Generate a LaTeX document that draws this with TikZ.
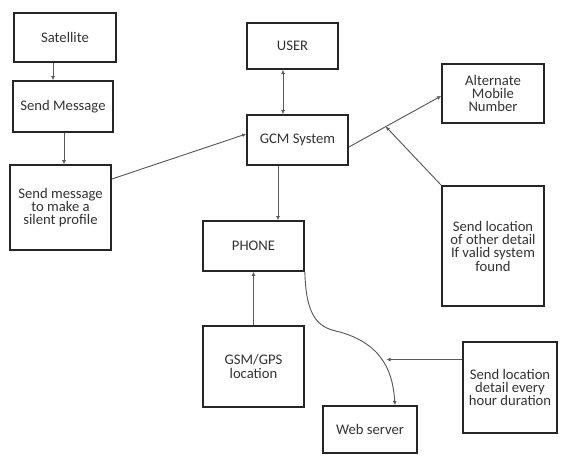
\documentclass[tikz,border=0pt]{standalone}
\usepackage{fontspec}
\setmainfont{Carlito}
\usetikzlibrary{arrows.meta,calc}

\newcommand{\boxfont}{\fontsize{11}{10}\selectfont\lineskiplimit=-5pt\relax\lineskip=0pt\relax}

\tikzset{every picture/.style={line width=0.75pt}}
\tikzset{
  box/.style={draw=black!85, line width=1.3pt, fill=white, align=center, inner sep=1pt,
    font=\boxfont, text=black!80},
  conn/.style={draw=black!65, line width=0.7pt},
  tip/.style={-{Latex[length=3pt,width=3pt]}}
}

\begin{document}
\begin{tikzpicture}[x=0.75pt,y=0.75pt,yscale=-1,xscale=1]
\useasboundingbox (0,0) rectangle (561,455);

% Boxes
\node [box, minimum width=76.5pt, minimum height=36.75pt] (sat) at (65,37.5) {Satellite};
\node [box, minimum width=75pt, minimum height=38.25pt] (sendmsg) at (63,106.5) {Send Message};
\node [box, minimum width=75.75pt, minimum height=63.75pt] (silent) at (60.5,207.5) {Send message\\to make a\\silent profile};
\node [box, minimum width=68.25pt, minimum height=34.5pt] (user) at (292.5,46) {USER};
\node [box, minimum width=75.75pt, minimum height=37.5pt] (gcm) at (297.5,140) {GCM System};
\node [box, minimum width=76.5pt, minimum height=44.25pt] (alt) at (493,93.5) {Alternate\\Mobile\\Number};
\node [box, minimum width=76.5pt, minimum height=90pt] (other) at (493,246) {Send location\\of other detail\\If valid system\\found};
\node [box, minimum width=75.75pt, minimum height=37.5pt] (phone) at (253.5,246) {PHONE};
\node [box, minimum width=75.75pt, minimum height=60.75pt] (gsm) at (253.5,366.5) {GSM/GPS\\location};
\node [box, minimum width=70.5pt, minimum height=35.25pt] (web) at (370,429.5) {Web server};
\node [box, minimum width=70.5pt, minimum height=68.25pt] (hour) at (510,387.5) {Send location\\detail every\\hour duration};

% Line start points
\coordinate (s1) at ($(sat.south)+(-12,0)$);
\coordinate (s2) at ($(sendmsg.south)+(1,0)$);
\coordinate (s3) at ($(user.south)+(-9.5,0)$);
\coordinate (s4) at ($(gcm.south)+(-19.5,0)$);

% Straight Lines
\draw [conn, tip] (s1) -- (s1 |- sendmsg.north);
\draw [conn, tip] (s2) -- (s2 |- silent.north);
\draw [conn, tip] ($(silent.east)+(0,-28.5)$) -- ($(gcm.west)+(0,-6)$);
\draw [conn, {Latex[length=3pt,width=3pt]}-{Latex[length=3pt,width=3pt]}] (s3) -- (s3 |- gcm.north);
\draw [conn, tip] ($(gcm.east)+(0,7)$) -- coordinate[pos=0.4] (j) ($(alt.west)+(0,2.5)$);
\draw [conn, tip] (other.north west) -- (j);
\draw [conn, tip] (s4) -- (s4 |- phone.north);
\draw [conn, tip] (gsm.north) -- (phone.south);

% Curve Lines
\coordinate (bend) at (340,332);
\coordinate (hj) at (386.5,359.5);
\draw [conn, tip] (phone.south east) .. controls (306,320) and (320,328) .. (bend) .. controls (385,345) and (393,375) .. ($(web.north)+(25,0)$);
\draw [conn, tip] (hour.west |- hj) -- (hj);

\end{tikzpicture}
\end{document}
